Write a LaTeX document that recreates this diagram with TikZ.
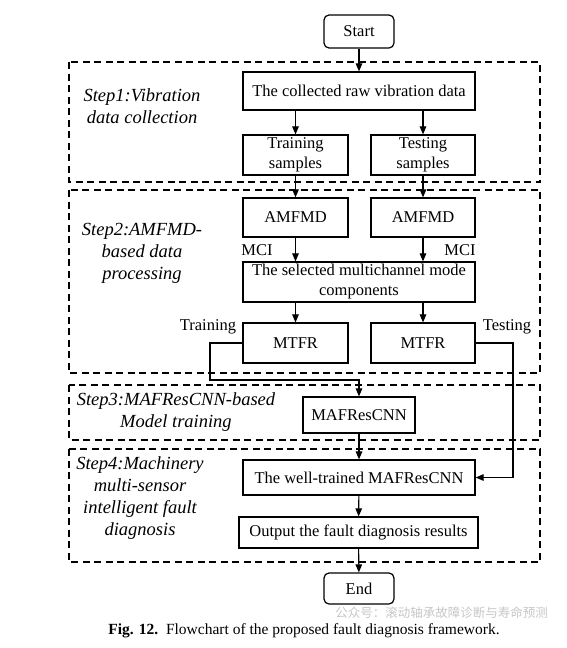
\documentclass[tikz,border=0pt]{standalone}
\usepackage{fontspec}
\setmainfont{Liberation Serif}
\newfontfamily\cjk{Noto Sans CJK SC}
\usetikzlibrary{arrows.meta,positioning}
\tikzset{
  box/.style={draw,line width=1.2pt,inner sep=0pt,align=center,font=\fontsize{16.5}{20}\selectfont},
  term/.style={box,rounded corners=5pt},
  stage/.style={draw,line width=1.2pt,dash pattern=on 7pt off 4.5pt},
  steplabel/.style={align=center,font=\fontsize{18.5}{22}\selectfont\itshape},
  lbl/.style={font=\fontsize{16.5}{20}\selectfont,inner sep=0pt},
  arr/.style={line width=1.1pt,-{Triangle[length=8pt,width=6.5pt]}},
}
\begin{document}
\begin{tikzpicture}[x=1pt,y=-1pt]
\useasboundingbox[fill=white] (0,0) rectangle (567,648);
% stage boxes
\draw[stage] (69,62) rectangle (540,182);
\draw[stage] (69,190) rectangle (540,373);
\draw[stage] (69,385) rectangle (540,440);
\draw[stage] (69,449) rectangle (540,562);
% step labels
\node[steplabel] (s1) at (142,106) {Step1:Vibration\\data collection};
\node[steplabel] (s2) at (142,253) {Step2:AMFMD-\\based data\\processing};
\node[steplabel] (s3) at (176,412) {Step3:MAFResCNN-based\\Model training};
\node[steplabel] (s4) at (140,498.5) {Step4:Machinery\\multi-sensor\\intelligent fault\\diagnosis};
% nodes
\node[term,minimum width=70pt,minimum height=33pt] (start) at (359,31.5) {Start};
\node[box,minimum width=232pt,minimum height=38pt] (raw) at (359,91) {The collected raw vibration data};
\node[box,minimum width=105pt,minimum height=40pt] (trs) at (295.5,155) {Training\\samples};
\node[box,minimum width=104pt,minimum height=40pt] (tes) at (423,155) {Testing\\samples};
\node[box,minimum width=105pt,minimum height=39pt] (am1) at (295.5,217.5) {AMFMD};
\node[box,minimum width=104pt,minimum height=39pt] (am2) at (423,217.5) {AMFMD};
\node[box,minimum width=232pt,minimum height=40pt] (sel) at (359,282) {The selected multichannel mode\\components};
\node[box,minimum width=105pt,minimum height=40pt] (mt1) at (295.5,343) {MTFR};
\node[box,minimum width=104pt,minimum height=40pt] (mt2) at (423,343) {MTFR};
\node[box,minimum width=112pt,minimum height=36pt] (maf) at (359,415) {MAFResCNN};
\node[box,minimum width=232pt,minimum height=35pt] (well) at (359,477.5) {The well-trained MAFResCNN};
\node[box,minimum width=239pt,minimum height=31pt] (out) at (358.5,532.5) {Output the fault diagnosis results};
\node[term,minimum width=70pt,minimum height=31pt] (end) at (359,588.5) {End};
% labels
\node[lbl] (mci1) at (257,250) {MCI};
\node[lbl] (mci2) at (460,250) {MCI};
\node[lbl] (trl) at (208,327) {Training};
\node[lbl] (tel) at (507,327) {Testing};
% arrows
\draw[arr] (start) -- (raw);
\draw[arr] (trs.north |- raw.south) -- (trs);
\draw[arr] (tes.north |- raw.south) -- (tes);
\draw[arr] (trs) -- (am1);
\draw[arr] (tes) -- (am2);
\draw[arr] (am1) -- (am1 |- sel.north);
\draw[arr] (am2) -- (am2 |- sel.north);
\draw[arr] (mt1 |- sel.south) -- (mt1);
\draw[arr] (mt2 |- sel.south) -- (mt2);
\coordinate (t1) at (210,343);
\coordinate (t2) at (210,380);
\coordinate (t3) at (359,380);
\draw[arr] (mt1.west) -- (t1) -- (t2) -- (t3) -- (maf.north);
\coordinate (u1) at (513,343);
\coordinate (u2) at (513,477.5);
\draw[arr] (mt2.east) -- (u1) -- (u2) -- (well.east);
\draw[arr] (maf) -- (well);
\draw[arr] (well) -- (out);
\draw[arr] (out) -- (end);
% caption
\node[font=\fontsize{15.5}{18}\selectfont,inner sep=0pt] (cap) at (304,631) {\textbf{Fig. 12.}\ \ Flowchart of the proposed fault diagnosis framework.};
\node[font=\cjk\fontsize{12.5}{14}\selectfont,text=black!22,inner sep=0pt,anchor=east] (wm) at (548,613) {公众号：滚动轴承故障诊断与寿命预测};
\end{tikzpicture}
\end{document}
